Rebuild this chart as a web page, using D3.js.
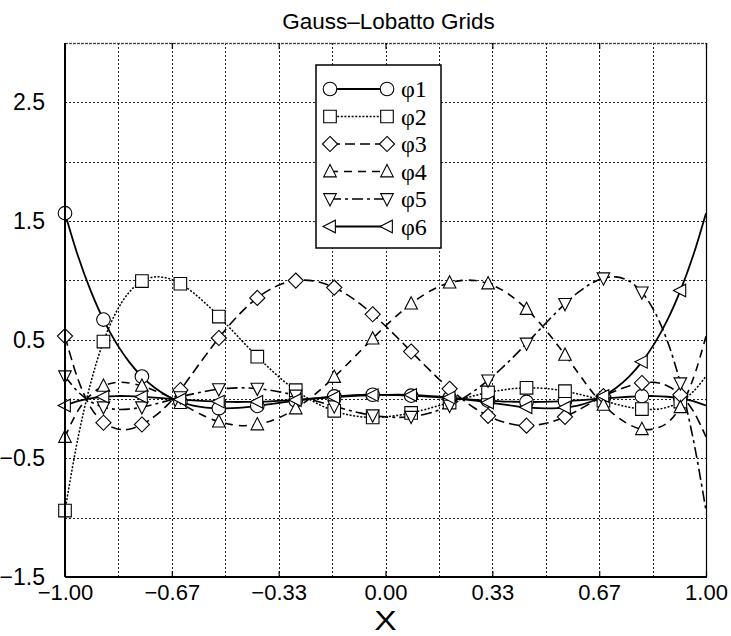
<!DOCTYPE html>
<html><head><meta charset="utf-8">
<script src="https://cdn.jsdelivr.net/npm/d3@7"></script>
<style>body{margin:0;background:#fff}svg{display:block}</style>
</head><body><svg id="chart" width="731" height="636"></svg>
<script>
// ---- data ----
const xValues = [-1.00,-0.96,-0.92,-0.88,-0.84,-0.80,-0.76,-0.72,-0.68,-0.64,-0.60,-0.56,-0.52,-0.48,-0.44,-0.40,-0.36,-0.32,-0.28,-0.24,-0.20,-0.16,-0.12,-0.08,-0.04,0.00,
  0.04,0.08,0.12,0.16,0.20,0.24,0.28,0.32,0.36,0.40,0.44,0.48,0.52,0.56,0.60,0.64,0.68,0.72,0.76,0.80,0.84,0.88,0.92,0.96,1.00];
const phi1 = [1.566,1.210,0.914,0.669,0.471,0.313,0.189,0.095,0.025,-0.023,-0.055,-0.072,-0.079,-0.077,-0.070,-0.058,-0.044,-0.029,-0.014,0.000,0.012,0.022,0.029,0.034,0.036,0.035,
  0.033,0.028,0.022,0.015,0.008,0.000,-0.008,-0.014,-0.020,-0.023,-0.025,-0.025,-0.022,-0.018,-0.012,-0.004,0.004,0.012,0.019,0.024,0.025,0.019,0.006,-0.018,-0.055];
const phi2 = [-0.940,-0.336,0.133,0.484,0.734,0.899,0.994,1.029,1.018,0.971,0.896,0.802,0.695,0.582,0.468,0.357,0.253,0.157,0.074,0.002,-0.056,-0.100,-0.131,-0.149,-0.155,-0.151,
  -0.137,-0.117,-0.091,-0.061,-0.030,0.001,0.030,0.055,0.074,0.088,0.094,0.092,0.083,0.066,0.043,0.016,-0.014,-0.044,-0.069,-0.085,-0.087,-0.069,-0.022,0.062,0.192];
const phi3 = [0.53,0.17,-0.07,-0.20,-0.25,-0.255,-0.215,-0.145,-0.05,0.076,0.224,0.372,0.514,0.644,0.758,0.852,0.924,0.973,0.998,1.000,0.980,0.939,0.879,0.803,0.714,0.615,
  0.509,0.400,0.291,0.185,0.086,-0.003,-0.080,-0.142,-0.187,-0.215,-0.225,-0.216,-0.191,-0.150,-0.096,-0.035,0.024,0.07,0.11,0.135,0.14,0.11,0.035,-0.10,-0.32];
const phi4 = [-0.32,-0.10,0.035,0.11,0.14,0.135,0.11,0.07,0.024,-0.035,-0.096,-0.150,-0.191,-0.216,-0.225,-0.215,-0.187,-0.142,-0.080,-0.003,0.086,0.185,0.291,0.400,0.509,0.615,
  0.714,0.803,0.879,0.939,0.980,1.000,0.998,0.973,0.924,0.852,0.758,0.644,0.514,0.372,0.224,0.076,-0.05,-0.145,-0.215,-0.255,-0.25,-0.20,-0.07,0.17,0.53];
const phi5 = [0.192,0.062,-0.022,-0.069,-0.087,-0.085,-0.069,-0.044,-0.014,0.016,0.043,0.066,0.083,0.092,0.094,0.088,0.074,0.055,0.030,0.001,-0.030,-0.061,-0.091,-0.117,-0.137,-0.151,
  -0.155,-0.149,-0.131,-0.100,-0.056,0.002,0.074,0.157,0.253,0.357,0.468,0.582,0.695,0.802,0.896,0.971,1.018,1.029,0.994,0.899,0.734,0.484,0.133,-0.336,-0.940];
const phi6 = [-0.055,-0.018,0.006,0.019,0.025,0.024,0.019,0.012,0.004,-0.004,-0.012,-0.018,-0.022,-0.025,-0.025,-0.023,-0.020,-0.014,-0.008,0.000,0.008,0.015,0.022,0.028,0.033,0.035,
  0.036,0.034,0.029,0.022,0.012,0.000,-0.014,-0.029,-0.044,-0.058,-0.070,-0.077,-0.079,-0.072,-0.055,-0.023,0.025,0.095,0.189,0.313,0.471,0.669,0.914,1.210,1.566];
const seriesNames = ["φ1","φ2","φ3","φ4","φ5","φ6"];
const xTickValues = [-1, -0.6667, -0.3333, 0, 0.3333, 0.6667, 1];
const xTickLabels = ["\u22121.00","\u22120.67","\u22120.33","0.00","0.33","0.67","1.00"];
const xGridValues = [-1,-0.8333,-0.6667,-0.5,-0.3333,-0.1667,0,0.1667,0.3333,0.5,0.6667,0.8333,1];
const yTickValues = [-1.5,-0.5,0.5,1.5,2.5];
const yTickLabels = ["\u22121.5","\u22120.5","0.5","1.5","2.5"];
const yGridValues = [-1.5,-1,-0.5,0,0.5,1,1.5,2,2.5,3];
const titleText = "Gauss\u2013Lobatto Grids";
const xLabel = "X";

// ---- chart ----
const seriesData = [phi1,phi2,phi3,phi4,phi5,phi6];
const styles = [
  {dash:null, sym:"circle", w:1.8},
  {dash:"2,1.6", sym:"square", w:1.5},
  {dash:"10,5", sym:"diamond", w:1.6},
  {dash:"8,6", sym:"up", w:1.6},
  {dash:"11,4,3,4", sym:"down", w:1.6},
  {dash:null, sym:"left", w:1.8}
];
const L=65,R=706,T=43,B=577;
const svg = d3.select("#chart");
svg.append("rect").attr("width",731).attr("height",636).attr("fill","#fff");
const x = d3.scaleLinear().domain([-1,1]).range([L,R]);
const y = d3.scaleLinear().domain([-1.5,3.0]).range([B,T]);
const font = "'Liberation Sans', Arial, Helvetica, sans-serif";

// grid
const grid = svg.append("g").attr("stroke","#222").attr("stroke-width",1).attr("stroke-dasharray","2,2");
grid.selectAll("line.gx").data(xGridValues).join("line")
  .attr("x1",d=>Math.round(x(d))+0.5).attr("x2",d=>Math.round(x(d))+0.5).attr("y1",T).attr("y2",B);
grid.selectAll("line.gy").data(yGridValues).join("line")
  .attr("y1",d=>Math.round(y(d))+0.5).attr("y2",d=>Math.round(y(d))+0.5).attr("x1",L).attr("x2",R);

// symbols
function symbolPath(type, s){
  switch(type){
    case "square": return `M${-s},${-s}H${s}V${s}H${-s}Z`;
    case "diamond": { const d=s*1.2; return `M0,${-d}L${d},0L0,${d}L${-d},0Z`; }
    case "up": return `M0,${-s*1.1}L${s},${s*0.85}L${-s},${s*0.85}Z`;
    case "down": return `M0,${s*1.1}L${s},${-s*0.85}L${-s},${-s*0.85}Z`;
    case "left": return `M${-s*1.1},0L${s*0.85},${-s}L${s*0.85},${s}Z`;
  }
  return "";
}
function drawSymbol(g, type, cx, cy){
  if(type==="circle"){
    g.append("circle").attr("cx",cx).attr("cy",cy).attr("r",6.8).attr("fill","#fff").attr("stroke","#000").attr("stroke-width",1.1);
  } else {
    g.append("path").attr("d",symbolPath(type,6.3)).attr("transform",`translate(${cx},${cy})`)
      .attr("fill","#fff").attr("stroke","#000").attr("stroke-width",1.1);
  }
}

const line = d3.line().x(d=>x(d[0])).y(d=>y(d[1])).curve(d3.curveCatmullRom.alpha(0.5));
const plotG = svg.append("g");
seriesData.forEach((vals,si)=>{
  const pts = xValues.map((xv,i)=>[xv,vals[i]]);
  plotG.append("path").datum(pts).attr("d",line).attr("fill","none").attr("stroke","#000")
    .attr("stroke-width",styles[si].w).attr("stroke-dasharray",styles[si].dash);
});
seriesData.forEach((vals,si)=>{
  const g = plotG.append("g");
  xValues.forEach((xv,i)=>{ if(i%3===0) drawSymbol(g, styles[si].sym, x(xv), y(vals[i])); });
});

// frame
svg.append("line").attr("x1",L).attr("x2",L).attr("y1",T).attr("y2",B).attr("stroke","#000").attr("stroke-width",2);
svg.append("line").attr("x1",L).attr("x2",R+1).attr("y1",B).attr("y2",B).attr("stroke","#000").attr("stroke-width",2);
svg.append("line").attr("x1",R+0.5).attr("x2",R+0.5).attr("y1",T).attr("y2",B).attr("stroke","#000").attr("stroke-width",1.2);
svg.append("line").attr("x1",L).attr("x2",R).attr("y1",T+0.5).attr("y2",T+0.5).attr("stroke","#555").attr("stroke-width",1.5).attr("stroke-dasharray","1,1");

// axes
const xAxis = d3.axisBottom(x).tickValues(xTickValues).tickFormat((d,i)=>xTickLabels[i]).tickSize(-6).tickPadding(11);
const gx = svg.append("g").attr("transform",`translate(0,${B})`).call(xAxis);
gx.select(".domain").remove();
gx.selectAll(".tick line").attr("stroke","#000").attr("stroke-width",1.2);
gx.selectAll("text").attr("font-family",font).attr("font-size",22).attr("fill","#000")
  .attr("dy",null).attr("y",null);
gx.selectAll(".tick text").attr("y",22.5).attr("dy","0");
const xAxisTop = d3.axisTop(x).tickValues(xTickValues).tickFormat("").tickSize(-6);
const gxt = svg.append("g").attr("transform",`translate(0,${T})`).call(xAxisTop);
gxt.select(".domain").remove();
gxt.selectAll(".tick line").attr("stroke","#000").attr("stroke-width",1.2);

const yAxis = d3.axisLeft(y).tickValues(yTickValues).tickFormat((d,i)=>yTickLabels[i]).tickSize(0).tickPadding(20);
const gy = svg.append("g").attr("transform",`translate(${L},0)`).call(yAxis);
gy.select(".domain").remove();
gy.selectAll("text").attr("font-family",font).attr("font-size",23).attr("fill","#000");

// labels
svg.append("text").attr("x",(L+R)/2+3).attr("y",29).attr("text-anchor","middle")
  .attr("font-family",font).attr("font-size",22.5).text(titleText);
svg.append("text").attr("x",(L+R)/2).attr("y",630).attr("text-anchor","middle")
  .attr("font-family",font).attr("font-size",28).attr("transform",`translate(${(L+R)/2},0) scale(1.2,1) translate(${-(L+R)/2},0)`).text(xLabel);

// legend
const lg = svg.append("g");
lg.append("rect").attr("x",316).attr("y",65).attr("width",125).attr("height",183)
  .attr("fill","#fff").attr("stroke","#000").attr("stroke-width",1.5);
seriesNames.forEach((name,i)=>{
  const ly = 89 + i*27.5;
  lg.append("line").attr("x1",330).attr("x2",387).attr("y1",ly).attr("y2",ly).attr("stroke","#000")
    .attr("stroke-width",styles[i].w).attr("stroke-dasharray",styles[i].dash);
  drawSymbol(lg, styles[i].sym, 330, ly);
  drawSymbol(lg, styles[i].sym, 387, ly);
  lg.append("text").attr("x",401).attr("y",ly+8).attr("font-family","'Liberation Serif', 'Times New Roman', serif")
    .attr("font-size",24).text(name);
});
</script></body></html>
